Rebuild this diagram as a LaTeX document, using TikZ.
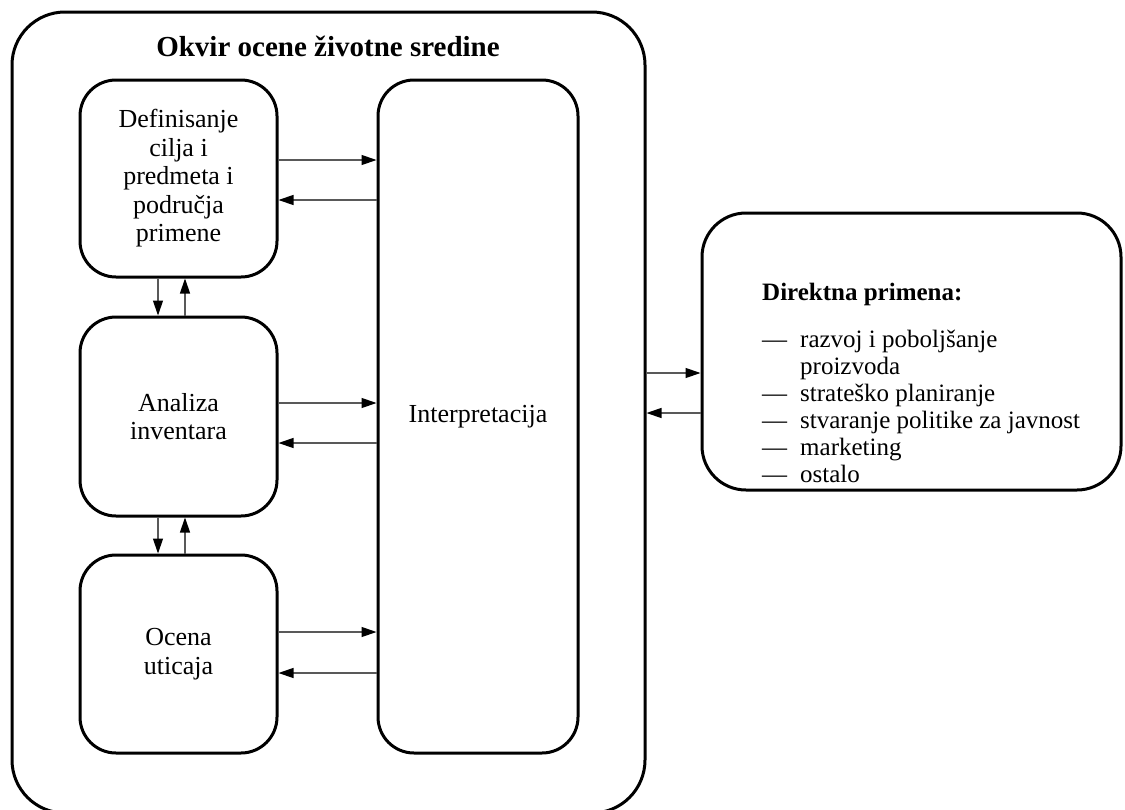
\documentclass[tikz,border=0pt]{standalone}
\usepackage{fontspec}
\setmainfont{Liberation Serif}
\usetikzlibrary{arrows.meta}

\begin{document}
\begin{tikzpicture}
			[x=1pt,y=-1pt,
			inner sep=0pt,
			font=\fontsize{26}{28.5}\selectfont,
			frame/.style={draw,line width=3pt,rounded corners=53pt},
			stage/.style={draw,line width=3pt,rounded corners=36pt,align=center,
				minimum width=197pt},
			flow/.style={draw=black!65,line width=1.2pt,
				-{Triangle[length=15pt,width=10pt,color=black]}}]
		\clip (0,0) rectangle (1125,809);
		\path node (okvir) at (328.5,412.5) [frame,minimum width=633pt,minimum height=801pt] {}
			  node (naslov) at (328,46) {\fontsize{29}{32}\selectfont\bfseries Okvir ocene životne sredine}
			  node (def) at (178.5,178.5) [stage,minimum height=197pt]
					{Definisanje\\cilja i\\predmeta i\\područja\\primene}
			  node (inv) at (178.5,416.5) [stage,minimum height=199pt]
					{Analiza\\inventara}
			  node (uti) at (178.5,654) [stage,minimum height=198pt]
					{Ocena\\uticaja}
			  node (int) at (478,416.5) [stage,minimum width=200pt,minimum height=673pt]
					{Interpretacija}
			  node (prim) at (911.5,351.5) [frame,rounded corners=44pt,
					minimum width=419pt,minimum height=277pt] {}
			  node (lista) at (762,283) [anchor=north west,align=left,
					font=\fontsize{25}{27}\selectfont]
					{\bfseries Direktna primena:\\[20pt]
					 \makebox[38pt][l]{—}razvoj i poboljšanje\\
					 \makebox[38pt][l]{}proizvoda\\
					 \makebox[38pt][l]{—}strateško planiranje\\
					 \makebox[38pt][l]{—}stvaranje politike za javnost\\
					 \makebox[38pt][l]{—}marketing\\
					 \makebox[38pt][l]{—}ostalo};
		% veze izmedju faza i interpretacije
		\draw[flow] (def.east |- 0,160) -- (int.west |- 0,160);
		\draw[flow] (int.west |- 0,200) -- (def.east |- 0,200);
		\draw[flow] (inv.east |- 0,403) -- (int.west |- 0,403);
		\draw[flow] (int.west |- 0,443) -- (inv.east |- 0,443);
		\draw[flow] (uti.east |- 0,632) -- (int.west |- 0,632);
		\draw[flow] (int.west |- 0,673) -- (uti.east |- 0,673);
		% veze izmedju faza
		\draw[flow] (def.south -| 158,0) -- (inv.north -| 158,0);
		\draw[flow] (inv.north -| 185,0) -- (def.south -| 185,0);
		\draw[flow] (inv.south -| 158,0) -- (uti.north -| 158,0);
		\draw[flow] (uti.north -| 185,0) -- (inv.south -| 185,0);
		% direktna primena
		\draw[flow] (okvir.east |- 0,373) -- (prim.west |- 0,373);
		\draw[flow] (prim.west |- 0,413) -- (okvir.east |- 0,413);
\end{tikzpicture}
\end{document}
